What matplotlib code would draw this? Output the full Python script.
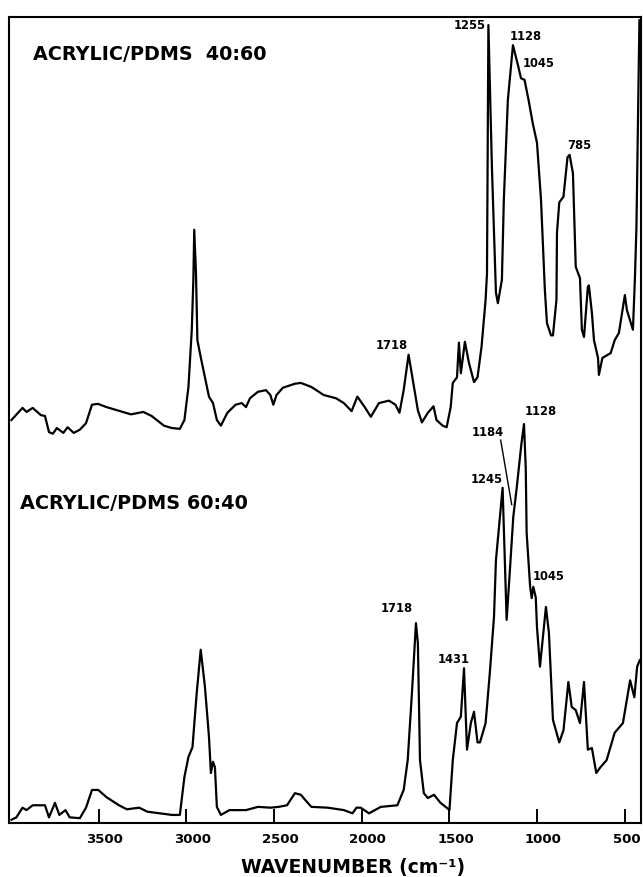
import matplotlib.pyplot as plt
from matplotlib.transforms import ScaledTranslation

# wavenumber (cm-1) and relative intensity
wn_4060 = [3997, 3934, 3911, 3876, 3829, 3806, 3783, 3761, 3738, 3701, 3677, 3642,
           3607, 3572, 3538, 3504, 3455, 3361, 3316, 3245, 3198, 3151, 3128, 3082,
           3037, 3011, 2988, 2969, 2960, 2955, 2945, 2937, 2918, 2894, 2871, 2848,
           2826, 2803, 2766, 2719, 2684, 2660, 2637, 2592, 2546, 2521, 2504, 2486,
           2450, 2381, 2347, 2287, 2217, 2147, 2102, 2058, 2025, 1983, 1948, 1902,
           1845, 1808, 1785, 1761, 1733, 1702, 1680, 1657, 1623, 1591, 1574, 1539,
           1516, 1493, 1481, 1457, 1446, 1435, 1412, 1389, 1360, 1340, 1317, 1294,
           1286, 1278, 1258, 1235, 1224, 1201, 1190, 1167, 1138, 1107, 1092, 1072,
           1049, 1025, 1001, 978, 956, 944, 921, 910, 890, 887, 874, 850, 827, 815,
           796, 780, 756, 745, 733, 711, 705, 688, 676, 653, 648, 628, 581, 558,
           534, 511, 500, 488, 454, 443, 434, 417]
i_4060 = [50.0, 51.5, 51.0, 51.5, 50.6, 50.5, 48.5, 48.3, 49.0, 48.4, 49.1, 48.4,
          48.8, 49.6, 51.9, 52.0, 51.6, 51.0, 50.7, 51.0, 50.5, 49.7, 49.3, 49.0,
          48.9, 50.0, 54.1, 61.2, 67.4, 73.6, 68.2, 59.9, 57.8, 55.3, 52.9, 52.1,
          50.0, 49.3, 50.9, 51.9, 52.1, 51.6, 52.7, 53.5, 53.7, 53.1, 51.9, 53.1,
          54.0, 54.5, 54.6, 54.1, 53.1, 52.7, 52.1, 51.1, 52.9, 51.6, 50.4, 52.1,
          52.4, 51.9, 50.9, 53.7, 58.1, 54.1, 51.2, 49.7, 50.9, 51.7, 50.0, 49.3,
          49.1, 51.6, 54.6, 55.3, 59.6, 55.8, 59.7, 57.1, 54.7, 55.3, 59.1, 64.9,
          68.2, 99.0, 81.4, 65.8, 64.5, 67.4, 77.3, 89.7, 96.5, 93.8, 92.4, 92.2,
          89.7, 86.8, 84.4, 77.3, 66.1, 62.0, 60.5, 60.5, 64.9, 73.2, 77.0, 77.7,
          82.6, 82.9, 80.6, 69.0, 67.6, 61.2, 60.3, 66.5, 66.7, 63.3, 59.9, 57.7,
          55.6, 57.7, 58.3, 59.9, 60.8, 64.0, 65.5, 63.6, 61.2, 67.4, 73.9, 99.6]

wn_6040 = [3997, 3969, 3934, 3911, 3876, 3806, 3783, 3749, 3724, 3689, 3665, 3607,
           3572, 3538, 3502, 3455, 3384, 3339, 3269, 3222, 3151, 3082, 3037, 3011,
           2988, 2965, 2941, 2918, 2894, 2871, 2860, 2848, 2837, 2826, 2803, 2754,
           2660, 2592, 2521, 2474, 2426, 2381, 2347, 2324, 2287, 2193, 2102, 2053,
           2030, 2006, 1959, 1891, 1797, 1761, 1738, 1714, 1691, 1680, 1668, 1646,
           1623, 1588, 1551, 1516, 1500, 1481, 1457, 1435, 1417, 1400, 1378, 1360,
           1340, 1326, 1294, 1270, 1246, 1235, 1197, 1174, 1155, 1136, 1117, 1090,
           1075, 1065, 1060, 1040, 1031, 1022, 1008, 1001, 984, 950, 933, 910, 874,
           850, 822, 803, 780, 756, 733, 711, 688, 663, 640, 604, 558, 511, 470,
           446, 430, 415]
i_6040 = [0.4, 0.7, 1.9, 1.6, 2.2, 2.2, 0.7, 2.5, 1.0, 1.6, 0.7, 0.6,
          1.9, 4.1, 4.1, 3.2, 2.2, 1.7, 1.9, 1.4, 1.2, 1.0, 1.0, 5.7,
          8.2, 9.4, 16.1, 21.5, 16.9, 10.7, 6.2, 7.6, 6.9, 2.0, 1.0, 1.6,
          1.6, 2.0, 1.9, 2.0, 2.2, 3.7, 3.5, 2.9, 2.0, 1.9, 1.6, 1.2,
          1.9, 1.9, 1.2, 2.0, 2.2, 4.1, 7.8, 16.1, 24.8, 22.3, 7.8, 3.7,
          3.1, 3.5, 2.5, 1.9, 1.6, 7.8, 12.4, 13.2, 19.2, 9.1, 12.4, 13.8,
          10.0, 10.0, 12.4, 18.6, 25.6, 32.6, 41.6, 25.2, 31.5, 38.0, 41.5, 47.0,
          49.5, 44.0, 36.0, 29.3, 27.9, 29.3, 28.0, 24.3, 19.4, 26.8, 23.6, 12.8, 10.0,
          11.5, 17.5, 14.4, 14.0, 12.4, 17.5, 9.1, 9.3, 6.2, 6.9, 7.8, 11.2, 12.4, 17.7,
          15.6, 19.4, 20.2]

tick_wn = [3500, 3000, 2500, 2000, 1500, 1000, 500]

# peak labels: text, wavenumber, intensity
labels_4060 = [("1255", 1386, 98.9), ("1128", 1067, 97.6), ("1045", 990, 94.2),
               ("785", 762, 84.1), ("1718", 1828, 59.3)]
labels_6040 = [("1184", 1281, 48.5), ("1245", 1288, 42.6), ("1128", 980, 51.0),
               ("1045", 937, 30.6), ("1718", 1801, 26.6), ("1431", 1476, 20.3)]

fig = plt.figure(figsize=(6.43, 8.77), dpi=100)
ax = fig.add_axes([9 / 643, 54 / 877, 632 / 643, 806 / 877])

ax.plot(wn_4060, i_4060, c="black", lw=1.6)
ax.plot(wn_6040, i_6040, c="black", lw=1.6)

for txt, x, y in labels_4060 + labels_6040:
    ax.text(x, y, txt, ha="center", va="center", fontsize=8.3, fontweight="bold")

# leader line for the 1184 shoulder
ax.plot([1208, 1145], [47.5, 39.5], c="black", lw=1.0)

ax.text(3875, 95.4, "ACRYLIC/PDMS  40:60", ha="left", va="center",
        fontsize=13.8, fontweight="bold")
ax.text(3946, 39.7, "ACRYLIC/PDMS 60:40", ha="left", va="center",
        fontsize=13.9, fontweight="bold")

ax.set_xlim(4011, 408)
ax.set_ylim(0, 100)
ax.set_xticks(tick_wn)
ax.set_xticklabels([str(t) for t in tick_wn], fontsize=9.5, fontweight="bold")
ax.set_yticks([])
ax.tick_params(axis="x", direction="in", length=10, width=1.4, pad=7)
for lab in ax.get_xticklabels():
    dx = 0.015 if lab.get_text() == "500" else 0.06
    lab.set_transform(lab.get_transform() + ScaledTranslation(dx, 0, fig.dpi_scale_trans))
for sp in ax.spines.values():
    sp.set_linewidth(1.5)

fig.text(353 / 643, 1 - 868 / 877, "WAVENUMBER (cm⁻¹)", ha="center", va="center",
         fontsize=13.5, fontweight="bold")

fig.savefig("out.png", dpi=100)
